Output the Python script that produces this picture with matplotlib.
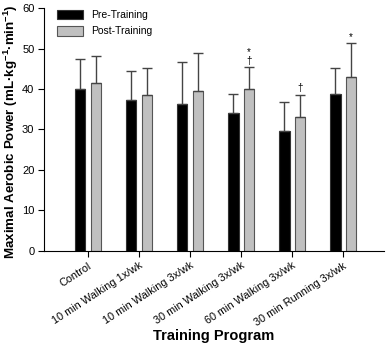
import matplotlib
matplotlib.use("Agg")
import matplotlib.pyplot as plt
import numpy as np

programs = ["Control", "10 min Walking 1x/wk", "10 min Walking 3x/wk",
            "30 min Walking 3x/wk", "60 min Walking 3x/wk", "30 min Running 3x/wk"]
pre_mean = [40.0, 37.2, 36.4, 34.1, 29.6, 38.8]
pre_sd = [7.4, 7.3, 10.3, 4.7, 7.2, 6.4]
post_mean = [41.4, 38.5, 39.6, 39.9, 33.0, 43.0]
post_sd = [6.7, 6.8, 9.4, 5.5, 5.6, 8.3]
post_marks = ["", "", "", "*\n\u2020", "\u2020", "*"]

plt.rcParams["font.family"] = ["Liberation Sans", "DejaVu Sans"]
plt.rcParams["mathtext.fontset"] = "custom"
plt.rcParams["mathtext.bf"] = "Liberation Sans:bold"
plt.rcParams["mathtext.rm"] = "Liberation Sans"

fig = plt.figure(figsize=(3.87, 3.49), dpi=100)
ax = fig.add_axes([0.114, 0.281, 0.878, 0.696])

x = np.arange(len(programs))
w = 0.2
off = 0.15
err_kw = dict(ecolor="#444444", elinewidth=1, capsize=3.5, capthick=1)
ax.bar(x - off, pre_mean, w, color="black", edgecolor="#333333", linewidth=0.8,
       yerr=[np.zeros(len(x)), pre_sd], error_kw=err_kw, label="Pre-Training")
ax.bar(x + off, post_mean, w, color="#c0c0c0", edgecolor="#555555", linewidth=0.8,
       yerr=[np.zeros(len(x)), post_sd], error_kw=err_kw, label="Post-Training")

for i, m in enumerate(post_marks):
    if m:
        ax.text(x[i] + off, post_mean[i] + post_sd[i] + 0.3, m, ha="center", va="bottom",
                fontsize=7, linespacing=0.9)

ax.set_xlim(-0.86, 5.8)
ax.set_ylim(0, 60)
ax.set_yticks(range(0, 61, 10))
ax.set_xticks(x)
ax.set_xticklabels(programs, rotation=33, ha="right", rotation_mode="anchor", fontsize=7.8)
ax.tick_params(axis="y", labelsize=8, length=4, direction="out", pad=3)
ax.tick_params(axis="x", length=4, direction="out", pad=3)
for s in ["top", "right"]:
    ax.spines[s].set_visible(False)

# y label placed on the figure so it sits where the reference has it
fig.text(11 / 387, 1 - 132 / 349,
         "Maximal Aerobic Power (mL\u00b7kg$\\mathbf{^{-1}}$\u00b7min$\\mathbf{^{-1}}$)",
         rotation=90, ha="center", va="center", fontsize=9.6, fontweight="bold")
ax.set_xlabel("Training Program", fontsize=10.5, fontweight="bold", labelpad=1)

ax.legend(loc="upper left", bbox_to_anchor=(0.025, 1.01), frameon=False, fontsize=7.5,
          handlelength=2.5, handleheight=1.0, borderaxespad=0, labelspacing=0.6)

fig.savefig("out.png", dpi=100)
